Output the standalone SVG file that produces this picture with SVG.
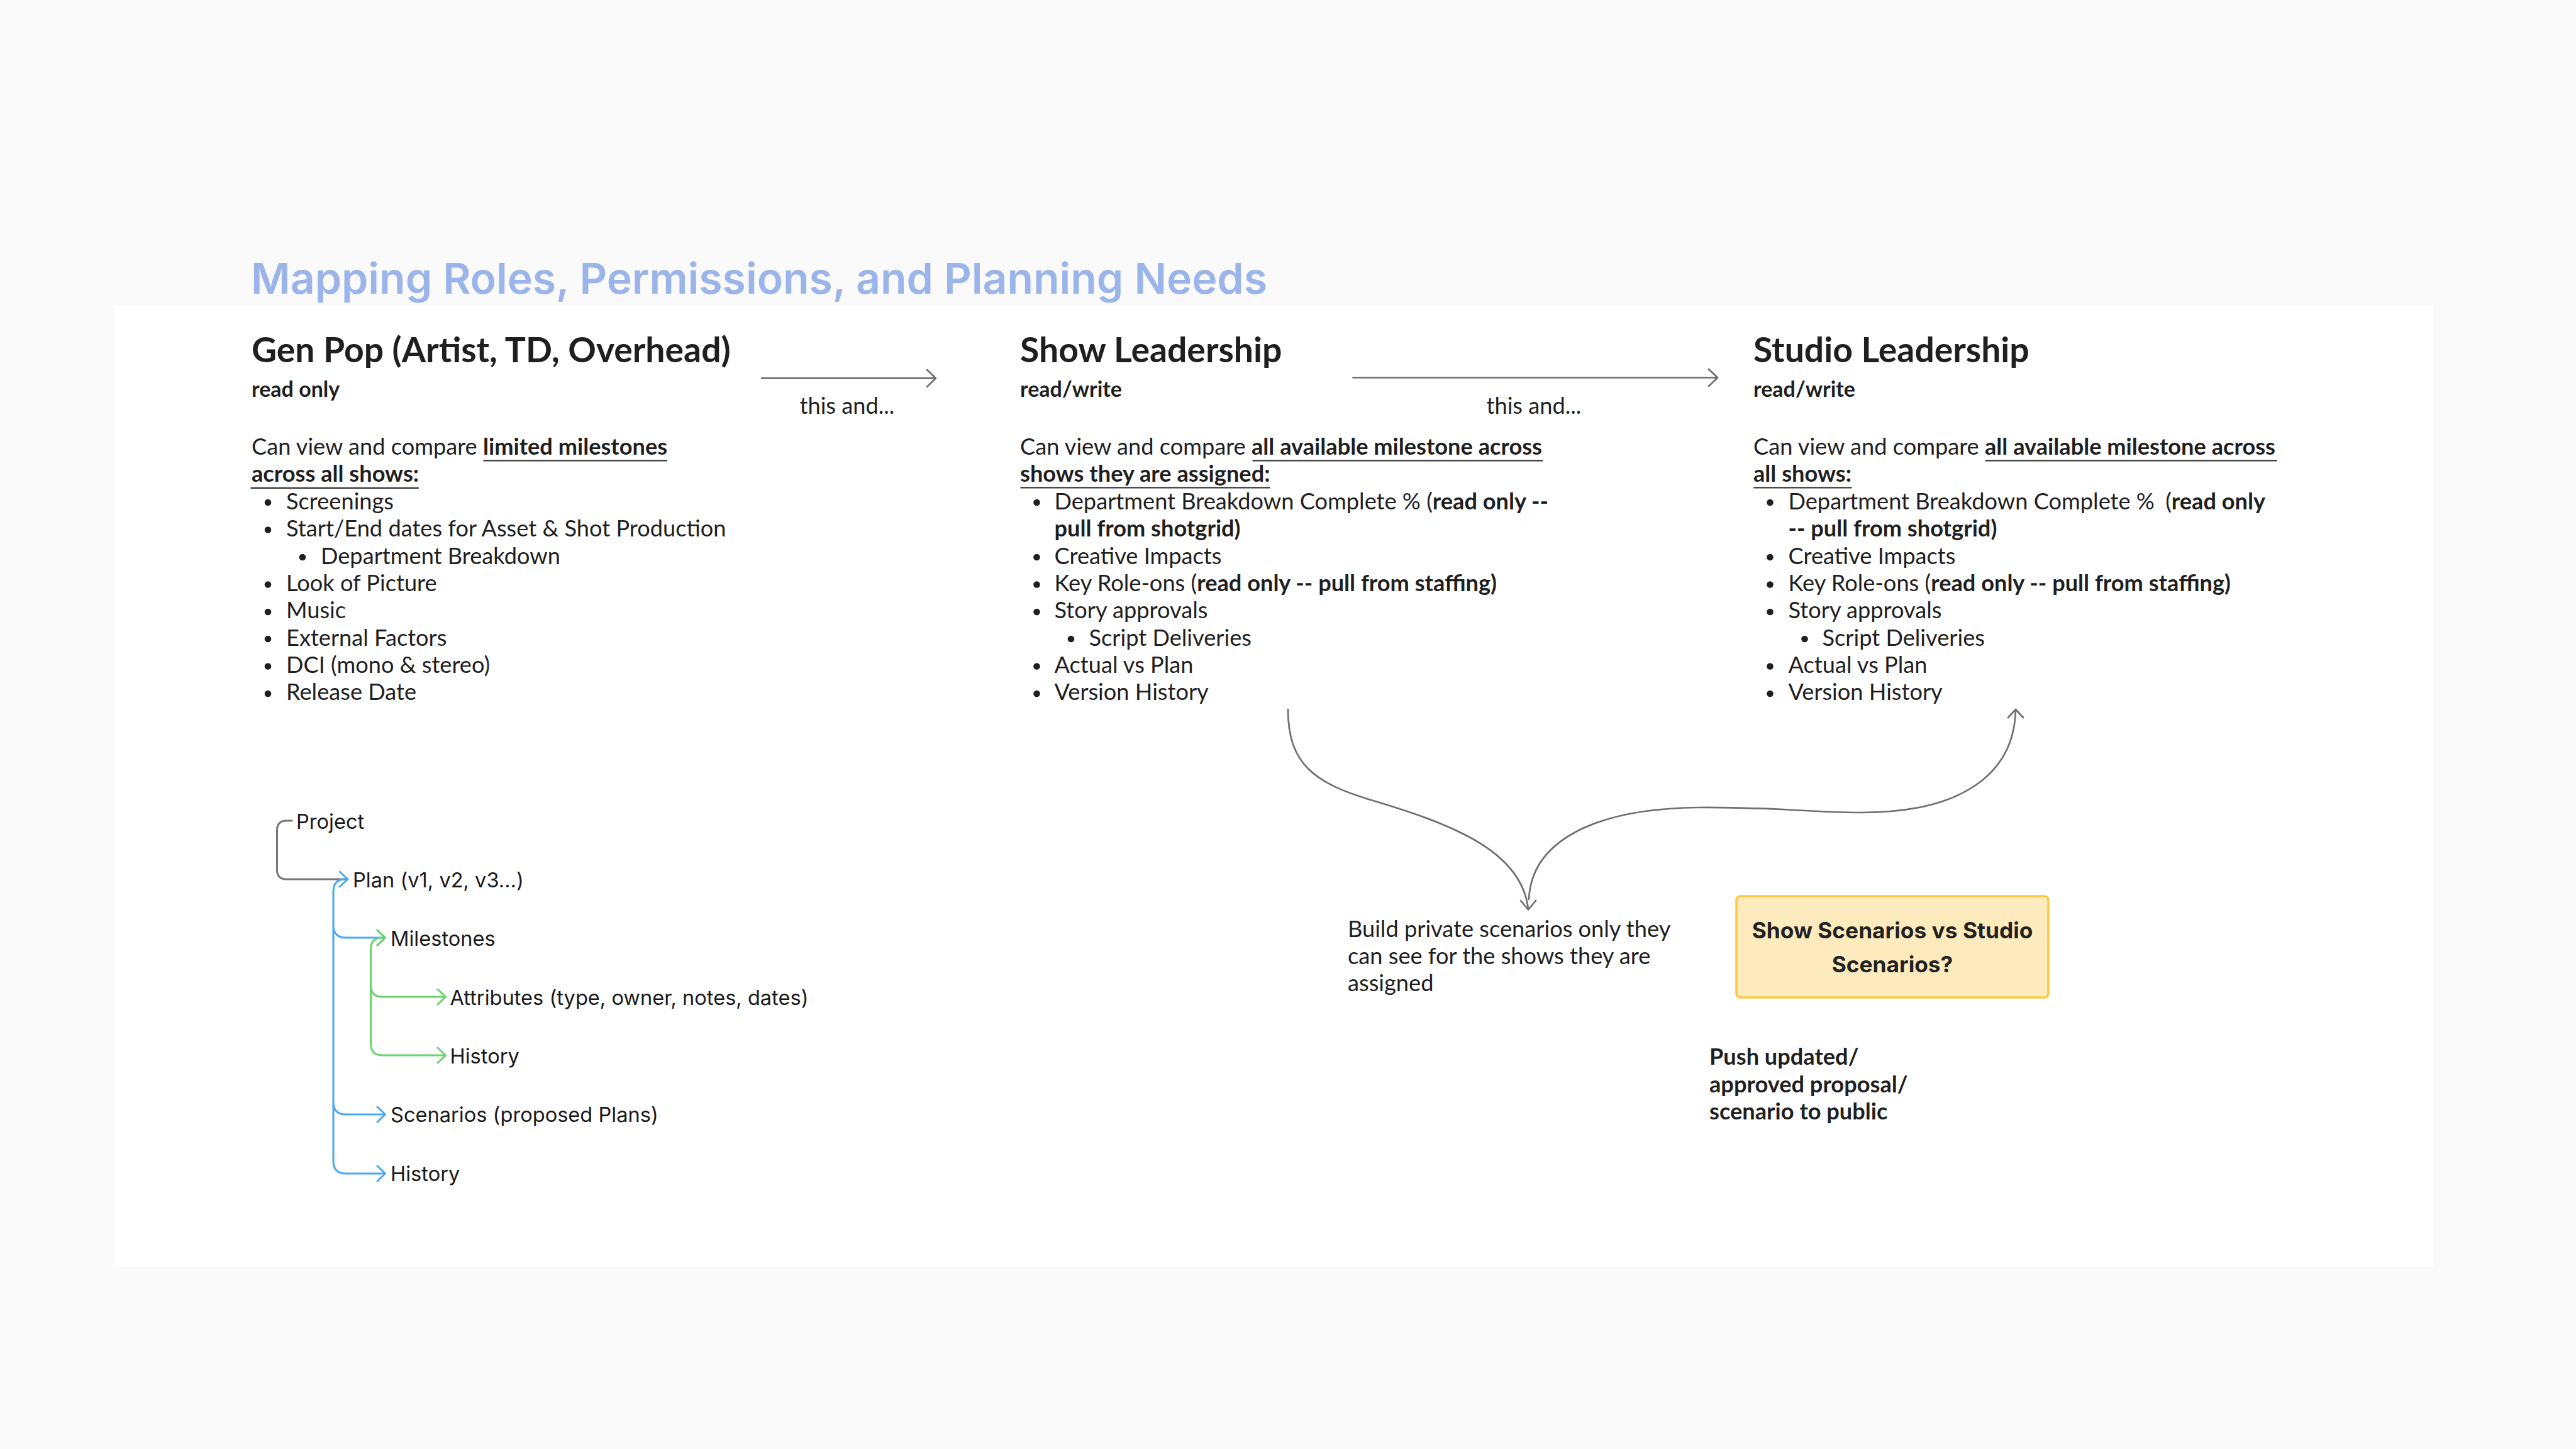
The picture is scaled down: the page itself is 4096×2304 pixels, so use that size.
<svg xmlns="http://www.w3.org/2000/svg" width="4096" height="2304" viewBox="0 0 4096 2304">
<style>
.t{font-family:Lato,"Liberation Sans",sans-serif;fill:#1f1f1f;font-size:36.2px}
.b{font-weight:700}
.h{font-family:Lato,"Liberation Sans",sans-serif;fill:#1f1f1f;font-size:55.3px;font-weight:700}
.s{font-family:Lato,"Liberation Sans",sans-serif;fill:#1f1f1f;font-size:34px;font-weight:700}
.tr{font-family:Inter,"Liberation Sans",sans-serif;fill:#1a1a1a;font-size:32.6px}
.dot{fill:#1f1f1f}
.ul{stroke:#262626;stroke-width:2.2;fill:none}
.c{fill:none;stroke:#6f6f6f;stroke-width:2.7;stroke-linecap:round;stroke-linejoin:round}
.gray{fill:none;stroke:#777;stroke-width:3;stroke-linecap:round;stroke-linejoin:round}
.blue{fill:none;stroke:#47a8f5;stroke-width:3;stroke-linecap:round;stroke-linejoin:round}
.green{fill:none;stroke:#6bd36b;stroke-width:3;stroke-linecap:round;stroke-linejoin:round}
</style>
<rect x="0" y="0" width="4096" height="2304" fill="#fafafa"/>
<rect x="182" y="486" width="3687" height="1529" fill="#ffffff"/>
<text id="title" x="399" y="467" font-family="Inter,'Liberation Sans',sans-serif" font-weight="600" font-size="68" fill="#9bb5ea" textLength="1616">Mapping Roles, Permissions, and Planning Needs</text>

<g id="genpop">
<text class="h" x="400" y="576">Gen Pop (Artist, TD, Overhead)</text>
<text class="s" x="400" y="631">read only</text>
<text class="t" x="400" y="722.5">Can view and compare <tspan class="b">limited milestones</tspan></text>
<text class="t b" x="400" y="766">across all shows:</text>
<path class="ul" d="M768.5,732.5 H1061 M398.6,776 H665.8"/>
<g class="dot">
<circle cx="426" cy="799" r="5.3"/><circle cx="426" cy="842.5" r="5.3"/><circle cx="481" cy="886" r="5.3"/><circle cx="426" cy="929.5" r="5.3"/><circle cx="426" cy="973" r="5.3"/><circle cx="426" cy="1016" r="5.3"/><circle cx="426" cy="1059.5" r="5.3"/><circle cx="426" cy="1103" r="5.3"/>
</g>
<text class="t" x="455" y="809.5">Screenings</text>
<text class="t" x="455" y="853">Start/End dates for Asset &amp; Shot Production</text>
<text class="t" x="510" y="896.5">Department Breakdown</text>
<text class="t" x="455" y="940">Look of Picture</text>
<text class="t" x="455" y="983">Music</text>
<text class="t" x="455" y="1026.5">External Factors</text>
<text class="t" x="455" y="1070">DCI (mono &amp; stereo)</text>
<text class="t" x="455" y="1113">Release Date</text>
</g>

<g id="showlead">
<text class="h" x="1622" y="576">Show Leadership</text>
<text class="s" x="1622" y="631">read/write</text>
<text class="t" x="1622" y="722.5">Can view and compare <tspan class="b">all available milestone across</tspan></text>
<text class="t b" x="1622" y="766">shows they are assigned:</text>
<path class="ul" d="M1991.5,732.5 H2453.2 M1622.4,775.5 H2019.6"/>
<g class="dot">
<circle cx="1648.5" cy="799" r="5.3"/><circle cx="1648.5" cy="886" r="5.3"/><circle cx="1648.5" cy="929.5" r="5.3"/><circle cx="1648.5" cy="973" r="5.3"/><circle cx="1703" cy="1016" r="5.3"/><circle cx="1648.5" cy="1059.5" r="5.3"/><circle cx="1648.5" cy="1103" r="5.3"/>
</g>
<text class="t" x="1676.5" y="809.5">Department Breakdown Complete % (<tspan class="b">read only --</tspan></text>
<text class="t b" x="1676.5" y="853">pull from shotgrid)</text>
<text class="t" x="1676.5" y="896.5">Creative Impacts</text>
<text class="t" x="1676.5" y="940">Key Role-ons (<tspan class="b">read only -- pull from staffing)</tspan></text>
<text class="t" x="1676.5" y="983">Story approvals</text>
<text class="t" x="1731.5" y="1026.5">Script Deliveries</text>
<text class="t" x="1676.5" y="1070">Actual vs Plan</text>
<text class="t" x="1676.5" y="1113">Version History</text>
</g>

<g id="studiolead">
<text class="h" x="2788" y="576">Studio Leadership</text>
<text class="s" x="2788" y="631">read/write</text>
<text class="t" x="2788" y="722.5">Can view and compare <tspan class="b">all available milestone across</tspan></text>
<text class="t b" x="2788" y="766">all shows:</text>
<path class="ul" d="M3156.6,732.5 H3620.3 M2788.3,775.5 H2944.4"/>
<g class="dot">
<circle cx="2814.5" cy="799" r="5.3"/><circle cx="2814.5" cy="886" r="5.3"/><circle cx="2814.5" cy="929.5" r="5.3"/><circle cx="2814.5" cy="973" r="5.3"/><circle cx="2869.5" cy="1016" r="5.3"/><circle cx="2814.5" cy="1059.5" r="5.3"/><circle cx="2814.5" cy="1103" r="5.3"/>
</g>
<text class="t" x="2843.5" y="809.5">Department Breakdown Complete % <tspan dx="8">(</tspan><tspan class="b">read only</tspan></text>
<text class="t b" x="2843.5" y="853">-- pull from shotgrid)</text>
<text class="t" x="2843.5" y="896.5">Creative Impacts</text>
<text class="t" x="2843.5" y="940">Key Role-ons (<tspan class="b">read only -- pull from staffing)</tspan></text>
<text class="t" x="2843.5" y="983">Story approvals</text>
<text class="t" x="2897.5" y="1026.5">Script Deliveries</text>
<text class="t" x="2843.5" y="1070">Actual vs Plan</text>
<text class="t" x="2843.5" y="1113">Version History</text>
</g>

<g id="labels">
<text class="t" x="1271.5" y="658">this and...</text>
<text class="t" x="2363.5" y="657.5">this and...</text>
</g>

<g id="private">
<text class="t" x="2143" y="1490">Build private scenarios only they</text>
<text class="t" x="2143" y="1533">can see for the shows they are</text>
<text class="t" x="2143" y="1576">assigned</text>
</g>

<g id="scenariobox">
<rect x="2761" y="1425" width="496" height="161" rx="6" fill="#feebbd" stroke="#fdc944" stroke-width="3.5"/>
<text x="3009" y="1492" text-anchor="middle" font-family="Inter,'Liberation Sans',sans-serif" font-weight="700" font-size="35.3" fill="#222">Show Scenarios vs Studio</text>
<text x="3009" y="1546" text-anchor="middle" font-family="Inter,'Liberation Sans',sans-serif" font-weight="700" font-size="35.3" fill="#222">Scenarios?</text>
</g>

<g id="push">
<text class="t b" x="2718" y="1693">Push updated/</text>
<text class="t b" x="2718" y="1736.5">approved proposal/</text>
<text class="t b" x="2718" y="1780">scenario to public</text>
</g>

<g id="tree-nodes">
<text class="tr" x="471" y="1318">Project</text>
<text class="tr" x="561" y="1411">Plan (v1, v2, v3…)</text>
<text class="tr" x="621" y="1504">Milestones</text>
<text class="tr" x="715.5" y="1597.5">Attributes (type, owner, notes, dates)</text>
<text class="tr" x="715.5" y="1691">History</text>
<text class="tr" x="621" y="1784">Scenarios (proposed Plans)</text>
<text class="tr" x="621" y="1878">History</text>
</g>

<g id="connectors">
<path class="c" d="M1211,601.4 L1488,601.4 M1474,588 L1488,601.4 L1474,615"/>
<path class="c" d="M2151.5,600.5 L2731,600.5 M2717,587 L2731,600.5 L2717,614"/>
<path class="c" d="M2048,1128 C2048,1215 2090,1245 2180,1272 C2300,1308 2420,1350 2430,1446 M2418,1432 L2430,1446.5 L2442,1432"/>
<path class="c" d="M2431,1430 C2435,1340 2530,1286 2700,1284 C2820,1283 2880,1292 2960,1292 C3120,1292 3203,1230 3205,1128 M3193,1141 L3205,1128 L3217,1141"/>
<path class="gray" d="M464,1305 L455.5,1305 Q440.5,1305 440.5,1320 L440.5,1383 Q440.5,1398 455.5,1398 L551,1398"/>
<path class="blue" d="M549,1398 Q530,1398 530,1418 L530,1846 Q530,1866 550,1866 L612,1866 M530,1471 Q530,1491 550,1491 L612,1491 M530,1752 Q530,1772 550,1772 L612,1772"/>
<path class="blue" d="M540,1386 L553,1398 L540,1410 M600,1479 L612.5,1491 L600,1503 M600,1760 L612.5,1772 L600,1784 M600,1854 L612.5,1866 L600,1878"/>
<path class="green" d="M608,1491 Q589.5,1491 589.5,1510 L589.5,1659 Q589.5,1678 608,1678 L708,1678 M589.5,1566 Q589.5,1585 608,1585 L708,1585"/>
<path class="green" d="M600,1479 L612.5,1491 L600,1503 M696,1573 L708.5,1585 L696,1597 M696,1666 L708.5,1678 L696,1690"/>
</g>
</svg>
